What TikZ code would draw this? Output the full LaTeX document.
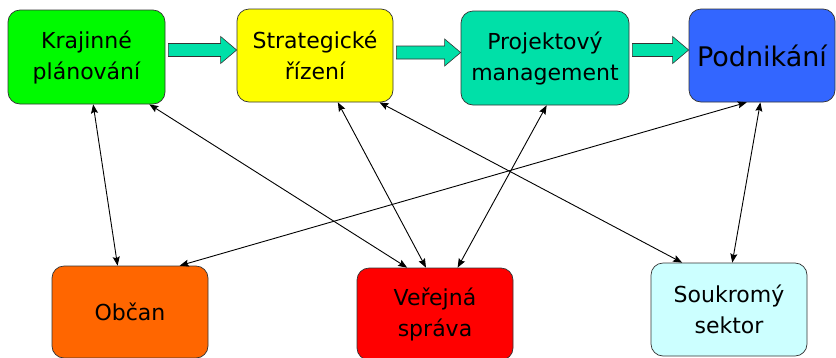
\documentclass[tikz,border=0pt]{standalone}
\usepackage{fontspec}
\setmainfont{DejaVu Sans}
\usepackage{tikz}
\usetikzlibrary{arrows,arrows.meta,calc}
\definecolor{zelena}{RGB}{0,250,0}
\definecolor{zluta}{RGB}{255,255,0}
\definecolor{tyrkys}{RGB}{0,224,168}
\definecolor{modra}{RGB}{51,102,255}
\definecolor{oranz}{RGB}{255,102,0}
\definecolor{cervena}{RGB}{255,0,0}
\definecolor{azur}{RGB}{204,255,255}
\newcommand{\Arc}[2]{\draw [arc] (#1) -- (#2);}
\newcommand{\Flow}[3]{\draw [flow] ($(#1.east)+(3,#3)$) coordinate (t)
  ++(0,-6.5) -| ($(#2.west |- t)+(-16,-13.5)$) -- (#2.west |- t)
  -- ($(#2.west |- t)+(-16,13.5)$) |- ($(t)+(0,6.5)$) -- cycle;}

\begin{document}
\begin{tikzpicture}
[x=1pt,y=-1pt,
 arc/.style={<->,line width=0.9pt,>={Stealth[length=9pt,width=7pt,inset=1.5pt]}},
 flow/.style={fill=tyrkys,draw=black!80,line width=0.6pt},
 box/.style={draw=black!80,line width=0.7pt,rounded corners=12pt,inner sep=0pt,
   minimum width=156pt,minimum height=93pt,align=center,
   font=\fontsize{22}{31}\selectfont},]

\useasboundingbox (0,0) rectangle (836,357);
\clip (0,0) rectangle (836,357);

\node [box,fill=zelena,minimum width=157pt,minimum height=94pt] at (86.5,57) (kp) {Krajinné\\plánování};
\node [box,fill=zluta] at (315,55.5) (sr) {Strategické\\řízení};
\node [box,fill=tyrkys,minimum width=168pt,minimum height=94pt] at (545,58) (pm) {Projektový\\management};
\node [box,fill=modra,minimum width=146pt,font=\fontsize{27}{31}\selectfont] at (762,55.5) (po) {Podnikání};
\node [box,fill=oranz,minimum height=92pt] at (130,312) (ob) {Občan};
\node [box,fill=cervena,minimum height=92pt] at (435,314) (vs) {Veřejná\\správa};
\node [box,fill=azur] at (729,309.5) (ss) {Soukromý\\sektor};

\Flow{kp}{sr}{-7}
\Flow{sr}{pm}{-3}
\Flow{pm}{po}{-8}

\Arc{kp.-82}{ob.105}
\Arc{kp.-37}{vs.121}
\Arc{sr.-64}{vs.101}
\Arc{pm.-88}{vs.64}
\Arc{sr.-36}{ss.135}
\Arc{po.-108}{ob.43}
\Arc{po.-92}{ss.86}
\end{tikzpicture}
\end{document}
